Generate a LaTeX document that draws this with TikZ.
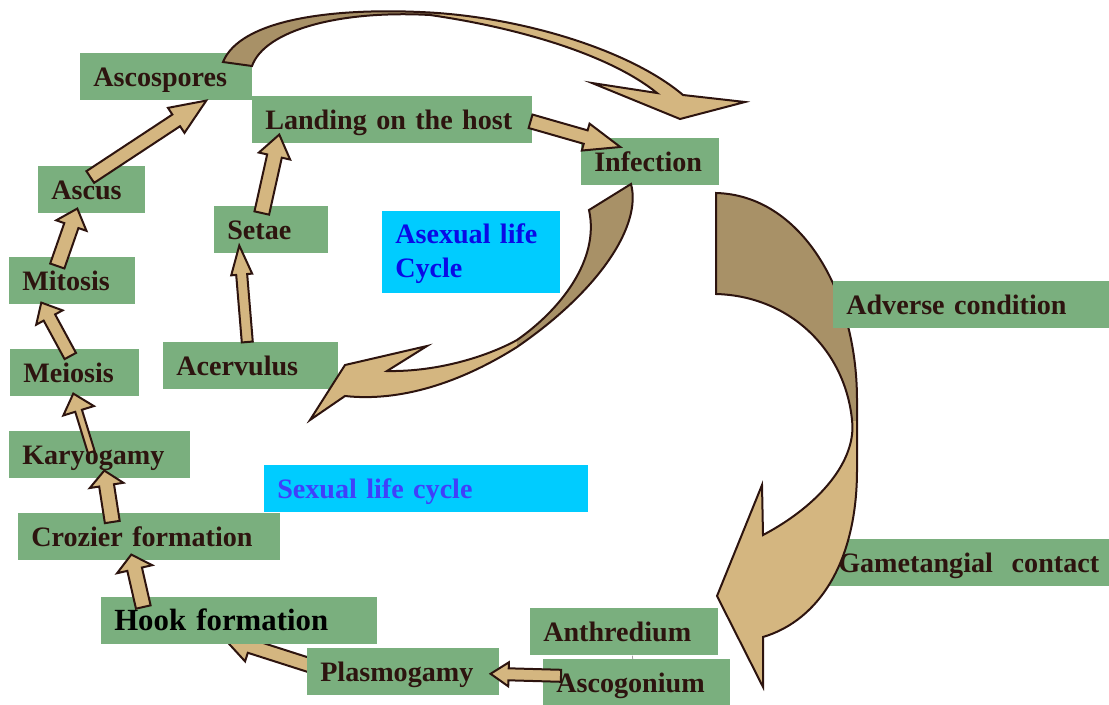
\documentclass[tikz,border=0pt]{standalone}
\usepackage{fontspec}
\setmainfont{Liberation Serif}
\usetikzlibrary{calc,backgrounds}

\definecolor{boxgreen}{RGB}{122,175,126}
\definecolor{boxcyan}{RGB}{0,204,255}
\definecolor{txtbrown}{RGB}{45,20,15}
\definecolor{arrowtan}{RGB}{212,182,128}
\definecolor{arrowdark}{RGB}{168,145,103}
\definecolor{asexblue}{RGB}{10,10,230}
\definecolor{sexblue}{RGB}{64,64,250}

\newcommand{\boxfont}{\bfseries\fontsize{20}{24}\selectfont}
\newcommand{\hookfont}{\bfseries\fontsize{21.9}{26}\selectfont}

% tail, tip, half shaft, half head, head length (in px)
\newcommand{\blockarrow}[5]{%
  \coordinate (ba-t) at (#1);
  \coordinate (ba-h) at (#2);
  \pgfmathsetlengthmacro{\baw}{#3*0.025cm}%
  \pgfmathsetlengthmacro{\bahw}{#4*0.025cm}%
  \pgfmathsetlengthmacro{\bahl}{#5*0.025cm}%
  \coordinate (ba-b) at ($(ba-h)!\bahl!(ba-t)$);
  \draw[blockarr] ($(ba-t)!\baw!90:(ba-h)$) -- ($(ba-b)!\baw!90:(ba-h)$)
    -- ($(ba-b)!\bahw!90:(ba-h)$) -- (ba-h) -- ($(ba-b)!\bahw!-90:(ba-h)$)
    -- ($(ba-b)!\baw!-90:(ba-h)$) -- ($(ba-t)!\baw!-90:(ba-h)$) -- cycle;
}

\def\bigarrowtop{(223,62) .. controls (240,20) and (330,8) .. (420,12)
  .. controls (520,16) and (630,50) .. (683,95) -- (745,102) -- (680,119)
  -- (592,83) -- (657,93) .. controls (610,55) and (520,28) .. (430,15)
  .. controls (340,10) and (265,30) .. (252,66) -- cycle}
\def\bigarrowasex{(631,184) .. controls (642,225) and (600,290) .. (517,347)
  .. controls (460,383) and (400,402) .. (345,396) -- (310,420) -- (345,365)
  -- (427,346) -- (387,371) .. controls (440,372) and (490,355) .. (517,340)
  .. controls (560,310) and (600,260) .. (589,210) -- cycle}
\def\bigarrowsex{(716,193) .. controls (800,195) and (857,290) .. (857,400)
  -- (857,470) .. controls (857,560) and (820,620) .. (763,637) -- (763,687)
  -- (717,596) -- (762,485) -- (763,535) .. controls (820,505) and (857,460) .. (852,420)
  .. controls (845,350) and (790,296) .. (716,294) -- cycle}

\tikzset{
  box/.style={rectangle, fill=boxgreen, text=txtbrown, font=\boxfont,
    anchor=north west, inner xsep=0.325cm, inner ysep=0pt,
    text height=0.84cm, text depth=0.335cm,
    text width={(#1-24)*0.025cm}, align=left},
  blockarr/.style={fill=arrowtan, draw=txtbrown, line width=0.05cm, line join=miter},
  bigline/.style={draw=txtbrown, line width=0.05cm, line join=miter}
}

\begin{document}
\begin{tikzpicture}[x=0.025cm, y=-0.025cm]
  \useasboundingbox (0,0) rectangle (1109,704);

  \node[box=170] (ascospores) at (80,53) {Ascospores};
  \node[box=278] (landing) at (252,96) {Landing on the host};
  \node[box=136] (infection) at (581,138) {Infection};
  \node[box=105] (ascus) at (38,166) {Ascus};
  \node[box=112] (setae) at (214,206) {Setae};
  \node[box=176, fill=boxcyan, text=asexblue, text height=0.8cm, text depth=1.25cm]
    (asexual) at (382,211) {Asexual life\\Cycle};
  \node[box=124] (mitosis) at (9,257) {Mitosis};
  \node[box=127] (meiosis) at (10,349) {Meiosis};
  \node[box=173] (acervulus) at (163,342) {Acervulus};
  \node[box=179] (karyogamy) at (9,431) {Karyogamy};
  \node[box=322, fill=boxcyan, text=sexblue] (sexual) at (264,465) {Sexual life cycle};
  \node[box=260] (crozier) at (18,513) {Crozier formation};
  \node[box=310, inner xsep=0.25cm] (gametangial) at (828,539) {Gametangial\ \ contact};
  \node[box=186] (anthredium) at (530,608) {Anthredium};
  \node[box=190] (plasmogamy) at (307,648) {Plasmogamy};
  \node[box=185] (ascogonium) at (543,659) {Ascogonium};

  \fill[arrowtan] \bigarrowtop;
  \begin{scope}
    \clip (200,0) rectangle (440,120);
    \fill[arrowdark] \bigarrowtop;
  \end{scope}
  \draw[bigline] \bigarrowtop;

  \fill[arrowtan] \bigarrowasex;
  \begin{scope}
    \clip (517,150) rectangle (700,360);
    \fill[arrowdark] \bigarrowasex;
  \end{scope}
  \draw[bigline] \bigarrowasex;

  \fill[arrowtan] \bigarrowsex;
  \begin{scope}
    \clip (700,150) rectangle (900,420);
    \fill[arrowdark] \bigarrowsex;
  \end{scope}
  \draw[bigline] \bigarrowsex;

  \node[box=276] (adverse) at (833,281) {Adverse condition};
  \node[box=274, text=black, font=\hookfont] (hook) at (101,597) {Hook formation};

  \begin{scope}[on background layer]
    \blockarrow{$(plasmogamy.west)+(6,-5.5)$}{$(hook.south)+(-16,-7)$}{7}{16}{28}
  \end{scope}
  \blockarrow{$(ascogonium.west)+(18,-7)$}{$(plasmogamy.east)+(-9,2)$}{6}{12}{18}
  \blockarrow{$(hook.north)+(-96,10)$}{$(crozier.south)+(-18,-6)$}{7.5}{18}{15}
  \blockarrow{$(crozier.north)+(-37,9)$}{$(karyogamy.south)+(4.5,-8)$}{7.5}{17}{15}
  \blockarrow{$(karyogamy.north)+(-8.5,21)$}{$(meiosis.south)+(-1.5,-3)$}{3.5}{16}{18}
  \blockarrow{$(meiosis.north)+(-4.5,7)$}{$(mitosis.south)+(-31,-2)$}{6.5}{15}{17}
  \blockarrow{$(mitosis.north)+(-15,9)$}{$(ascus.south)+(-14.5,-5)$}{7.5}{16}{18}
  \blockarrow{$(ascus.north)+(-1.5,11)$}{$(ascospores.south)+(40,0)$}{7}{15}{36}
  \blockarrow{$(acervulus.north)+(-3.5,0)$}{$(setae.south)+(-32,-8)$}{5.5}{10.5}{29}
  \blockarrow{$(setae.north)+(-9.5,7)$}{$(landing.south)+(-113,-9)$}{7.5}{16}{22}
  \blockarrow{$(landing.east)+(-2,1.5)$}{$(infection.north)+(-30,9)$}{7}{14}{36}

  \draw[gray, thin] ($(anthredium.south)+(8,0)$) -- ($(ascogonium.north)+(-4,0)$);
\end{tikzpicture}
\end{document}
